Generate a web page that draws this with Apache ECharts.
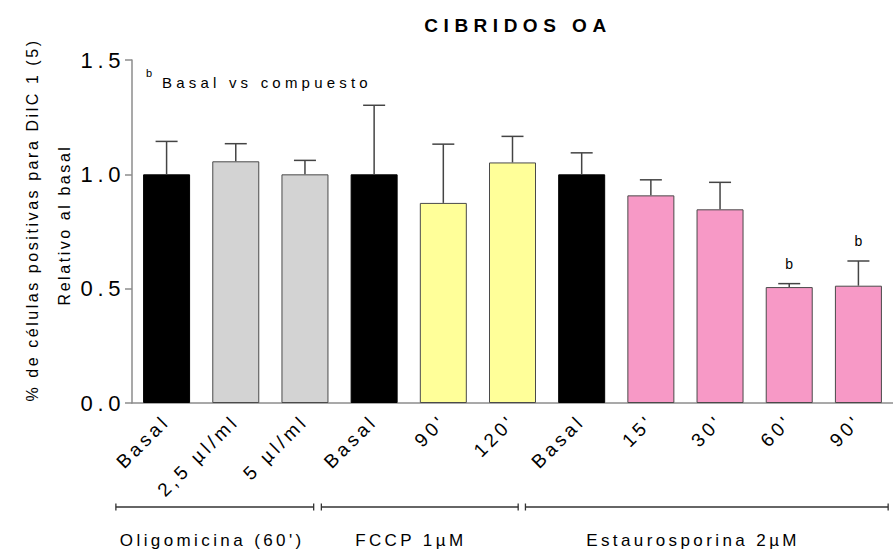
<!DOCTYPE html>
<html>
<head>
<meta charset="utf-8">
<title>CIBRIDOS OA</title>
<script src="https://cdn.jsdelivr.net/npm/echarts@6/dist/echarts.min.js"></script>
<style>
  html, body { margin: 0; padding: 0; background: #fff; }
  #chart { width: 893px; height: 551px; }
</style>
</head>
<body>
<div id="chart"></div>
<script>
// Conditions (x categories)
const categories = ['Basal', '2,5 \u00b5l/ml', '5 \u00b5l/ml', 'Basal', "90'", "120'", 'Basal', "15'", "30'", "60'", "90'"];
// Mean DiIC1(5)-positive cells relative to basal
const means = [1.00, 1.057, 1.00, 1.00, 0.875, 1.052, 1.00, 0.908, 0.847, 0.507, 0.513];
// Upper end of each error bar (mean + SEM)
const errTops = [1.144, 1.134, 1.061, 1.302, 1.132, 1.166, 1.094, 0.976, 0.965, 0.522, 0.621];
// Significance marks (b: basal vs compound)
const marks = ['', '', '', '', '', '', '', '', '', 'b', 'b'];
// Fill colour per treatment
const barColors = ['#000000', '#d3d3d3', '#d3d3d3', '#000000', '#ffff99', '#ffff99', '#000000', '#f799c6', '#f799c6', '#f799c6', '#f799c6'];
// Y ticks
const yTicks = [0, 0.5, 1.0, 1.5];
// Treatment groups under the x axis (start/end as category positions)
const groupNames = ["Oligomicina (60')", 'FCCP 1\u00b5M', 'Estaurosporina 2\u00b5M'];
const groupStart = [-0.733, 2.237, 5.187];
const groupEnd = [2.126, 5.082, 10.43];
const groupLabelAt = [0.66, 3.53, 7.61];

const FONT = '"Liberation Sans", Arial, sans-serif';

const chart = echarts.init(document.getElementById('chart'), null, { renderer: 'svg' });

const option = {
  animation: false,
  backgroundColor: '#ffffff',
  title: {
    text: 'CIBRIDOS OA',
    left: 513,
    top: 11,
    textAlign: 'center',
    textStyle: { fontFamily: FONT, fontSize: 19, fontWeight: 'bold', color: '#000' }
  },
  grid: { left: 132, top: 60, width: 766, height: 343 },
  xAxis: {
    type: 'category',
    data: categories,
    axisLine: { lineStyle: { color: '#8c8c8c', width: 1.5 } },
    axisTick: { alignWithLabel: true, length: 7, lineStyle: { color: '#8c8c8c', width: 1.5 } },
    axisLabel: {
      rotate: 45, interval: 0, margin: 15,
      fontFamily: FONT, fontSize: 19, color: '#000'
    }
  },
  yAxis: {
    type: 'value',
    min: yTicks[0],
    max: yTicks[yTicks.length - 1],
    interval: 0.5,
    splitLine: { show: false },
    axisLine: { show: true, lineStyle: { color: '#8c8c8c', width: 1.5 } },
    axisTick: { show: true, length: 7, lineStyle: { color: '#8c8c8c', width: 1.5 } },
    axisLabel: {
      margin: 7, fontFamily: FONT, fontSize: 22, color: '#000',
      formatter: v => v.toFixed(1)
    }
  },
  series: [
    {
      type: 'bar',
      barWidth: 47,
      data: means.map((v, i) => ({
        value: v,
        itemStyle: { color: barColors[i], borderColor: barColors[i] === '#000000' ? '#000' : '#4a4a4a', borderWidth: 1 }
      })),
      z: 2
    },
    {
      type: 'custom',
      z: 3,
      data: means.map((v, i) => [i, v, errTops[i]]),
      renderItem: (params, api) => {
        const i = api.value(0);
        const base = api.coord([i, api.value(1)]);
        const top = api.coord([i, api.value(2)]);
        const half = 11;
        const children = [
          { type: 'line', shape: { x1: base[0], y1: base[1], x2: top[0], y2: top[1] }, style: { stroke: '#444', lineWidth: 1.5 } },
          { type: 'line', shape: { x1: top[0] - half, y1: top[1], x2: top[0] + half, y2: top[1] }, style: { stroke: '#444', lineWidth: 1.5 } }
        ];
        if (marks[i]) {
          children.push({
            type: 'text',
            style: { text: marks[i], x: top[0], y: top[1] - 20, align: 'center', verticalAlign: 'middle', font: '14px ' + FONT, fill: '#000' }
          });
        }
        return { type: 'group', children };
      }
    }
  ],
  graphic: [
    { type: 'text', x: 146, y: 73, style: { text: 'b', font: '11px ' + FONT, fill: '#000', align: 'left', verticalAlign: 'middle' } },
    { type: 'text', x: 162, y: 82, style: { text: 'Basal vs compuesto', font: '15px ' + FONT, fill: '#000', align: 'left', verticalAlign: 'middle' } },
    { type: 'text', x: 32, y: 220, rotation: Math.PI / 2, style: { text: '% de c\u00e9lulas positivas para DilC 1 (5)', font: '16px ' + FONT, fill: '#000', align: 'center', verticalAlign: 'middle' } },
    { type: 'text', x: 64, y: 225, rotation: Math.PI / 2, style: { text: 'Relativo al basal', font: '16px ' + FONT, fill: '#000', align: 'center', verticalAlign: 'middle' } }
  ]
};

chart.setOption(option);

// Group brackets and labels beneath the rotated category labels
const p0 = chart.convertToPixel({ xAxisIndex: 0 }, 0);
const band = chart.convertToPixel({ xAxisIndex: 0 }, 1) - p0;
const catX = c => p0 + c * band;
const bracketY = 507;
const extra = [];
groupNames.forEach((name, g) => {
  const xa = catX(groupStart[g]);
  const xb = catX(groupEnd[g]);
  const st = { stroke: '#333', lineWidth: 1.3 };
  extra.push({ type: 'line', shape: { x1: xa, y1: bracketY, x2: xb, y2: bracketY }, style: st });
  extra.push({ type: 'line', shape: { x1: xa, y1: bracketY - 3.5, x2: xa, y2: bracketY + 3.5 }, style: st });
  extra.push({ type: 'line', shape: { x1: xb, y1: bracketY - 3.5, x2: xb, y2: bracketY + 3.5 }, style: st });
  extra.push({ type: 'text', x: catX(groupLabelAt[g]), y: 540, style: { text: name, font: '17px ' + FONT, fill: '#000', align: 'center', verticalAlign: 'middle' } });
});
chart.setOption({ graphic: option.graphic.concat(extra) });

// Wide tracking on the text, set per font size
const tracking = { 22: '0.21em', 19: '0.2em', 15: '0.28em', 16: '0.16em', 17: '0.2em' };
function applyTracking() {
  document.querySelectorAll('#chart text').forEach(t => {
    const cs = getComputedStyle(t);
    const fs = Math.round(parseFloat(cs.fontSize));
    if (fs === 19 && parseInt(cs.fontWeight, 10) >= 600) {
      t.style.letterSpacing = '0.29em';
    } else if (tracking[fs]) {
      t.style.letterSpacing = tracking[fs];
    }
  });
}
chart.on('finished', applyTracking);
applyTracking();
</script>
</body>
</html>
